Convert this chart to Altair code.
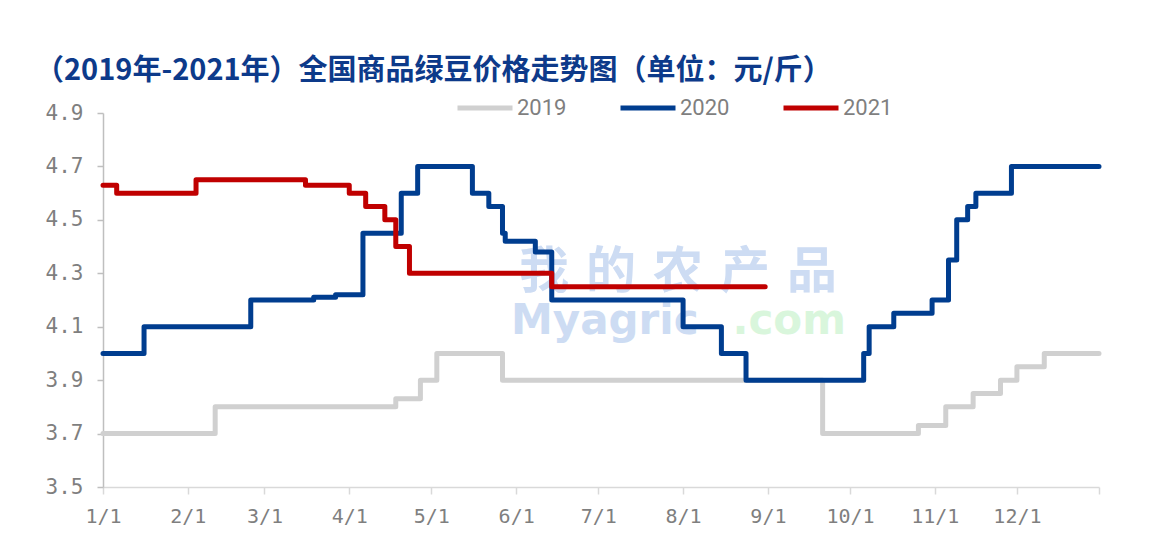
import altair as alt
import pandas as pd

# ---------------- data ----------------
series_names = ["2019", "2020", "2021"]
series_colors = ["#d0d0d0", "#003d8f", "#c00000"]

dates_2019 = ["01-01", "02-11", "04-18", "04-27", "05-03", "05-27", "09-21",
              "10-26", "11-05", "11-15", "11-25", "12-01", "12-11", "12-31"]
values_2019 = [3.70, 3.80, 3.83, 3.90, 4.00, 3.90, 3.70,
               3.73, 3.80, 3.85, 3.90, 3.95, 4.00, 4.00]

dates_2020 = ["01-01", "01-16", "02-24", "03-19", "03-27", "04-06", "04-20",
              "04-26", "05-16", "05-22", "05-27", "05-28", "06-08", "06-14",
              "08-01", "08-15", "08-24", "10-06", "10-08", "10-17", "10-31",
              "11-06", "11-09", "11-13", "11-16", "11-29", "12-31"]
values_2020 = [4.00, 4.10, 4.20, 4.21, 4.22, 4.45, 4.60,
               4.70, 4.60, 4.55, 4.45, 4.42, 4.38, 4.20,
               4.10, 4.00, 3.90, 4.00, 4.10, 4.15, 4.20,
               4.35, 4.50, 4.55, 4.60, 4.70, 4.70]

dates_2021 = ["01-01", "01-06", "02-04", "03-16", "04-01", "04-07", "04-14",
              "04-18", "04-23", "06-14", "08-31"]
values_2021 = [4.63, 4.60, 4.65, 4.63, 4.60, 4.55, 4.50,
               4.40, 4.30, 4.25, 4.25]

y_ticks = [3.5, 3.7, 3.9, 4.1, 4.3, 4.5, 4.7, 4.9]
x_tick_months = list(range(1, 13))

title_text = "（2019年-2021年）全国商品绿豆价格走势图（单位：元/斤）"
watermark_cn = "我的农产品"
watermark_en1 = "Myagric"
watermark_en2 = ".com"

BASE_YEAR = 2001

rows = []
for name, ds, vs in [("2019", dates_2019, values_2019),
                     ("2020", dates_2020, values_2020),
                     ("2021", dates_2021, values_2021)]:
    for d, v in zip(ds, vs):
        rows.append({"date": f"{BASE_YEAR}-{d}T00:00:00", "value": v, "series": name})
df = pd.DataFrame(rows)

one = alt.Data(values=[{"k": 1}])

# ---------------- marks ----------------
x_values = [alt.DateTime(year=BASE_YEAR, month=m, date=1) for m in x_tick_months] + \
           [alt.DateTime(year=BASE_YEAR, month=12, date=31)]

x_enc = alt.X(
    "date:T",
    scale=alt.Scale(domain=[alt.DateTime(year=BASE_YEAR, month=1, date=1),
                            alt.DateTime(year=BASE_YEAR, month=12, date=31)]),
    axis=alt.Axis(
        values=x_values,
        labelExpr="date(datum.value) == 1 ? timeFormat(datum.value, '%-m/%-d') : ''",
        labelFont="DejaVu Sans Mono", labelFontSize=20, labelColor="#7f7f7f",
        labelFlush=False, labelOverlap=False, labelPadding=12,
        tickSize=7, tickColor="#d9d9d9", tickWidth=1.5,
        domainColor="#d9d9d9", domainWidth=1.5, grid=False, title=None,
    ),
)
y_enc = alt.Y(
    "value:Q",
    scale=alt.Scale(domain=[3.5, 4.9], nice=False, zero=False),
    axis=alt.Axis(
        values=y_ticks, format=".1f",
        labelFont="DejaVu Sans Mono", labelFontSize=21, labelColor="#7f7f7f",
        labelPadding=14, tickSize=6, tickColor="#bfbfbf", tickWidth=1.5,
        domainColor="#bfbfbf", domainWidth=1.5, grid=False, title=None,
    ),
)

lines = alt.Chart(df).mark_line(
    interpolate="step-after", strokeWidth=5, strokeCap="round", strokeJoin="round"
).encode(
    x=x_enc,
    y=y_enc,
    color=alt.Color(
        "series:N",
        scale=alt.Scale(domain=series_names, range=series_colors),
        legend=alt.Legend(
            title=None, orient="none", direction="horizontal",
            legendX=352, legendY=-35,
            symbolType="stroke", symbolSize=3025, symbolStrokeWidth=5,
            labelFont="Roboto", labelFontSize=22, labelColor="#7f7f7f",
            labelOffset=2, columnPadding=43, padding=0,
        ),
    ),
)

frame_left = alt.Chart(one).mark_rule(color="#9a9a9a", strokeWidth=1.5).encode(
    x=alt.value(-96), y=alt.value(-106), y2=alt.value(460))
frame_top = alt.Chart(one).mark_rule(color="#9a9a9a", strokeWidth=1.5).encode(
    x=alt.value(-96), x2=alt.value(1060), y=alt.value(-106))

wm_layers = []
for i, ch in enumerate(watermark_cn):
    wm_layers.append(
        alt.Chart(one).mark_text(
            text=ch, font="Noto Sans CJK SC", fontSize=50, fontWeight="bold",
            color="#cddcf3", align="center", baseline="middle",
        ).encode(x=alt.value(441 + 67 * i), y=alt.value(160))
    )
wm_layers.append(
    alt.Chart(one).mark_text(
        text=watermark_en1, font="DejaVu Sans", fontSize=42, fontWeight="bold",
        color="#cddcf3", align="left", baseline="alphabetic",
    ).encode(x=alt.value(408), y=alt.value(221))
)
wm_layers.append(
    alt.Chart(one).mark_text(
        text=watermark_en2, font="DejaVu Sans", fontSize=42, fontWeight="bold",
        color="#d9f6dc", align="right", baseline="alphabetic",
    ).encode(x=alt.value(743), y=alt.value(221))
)

title = alt.Chart(one).mark_text(
    text=title_text, font="Noto Sans CJK SC", fontSize=29, fontWeight="bold",
    color="#0d3a8a", align="left", baseline="middle",
).encode(x=alt.value(-68), y=alt.value(-42))

chart = alt.layer(
    frame_left, frame_top, *wm_layers, lines, title
).properties(
    width=996, height=374,
    padding={"left": 95, "top": 105, "right": 45, "bottom": 45},
    autosize=alt.AutoSizeParams(type="none"),
).configure_view(stroke=None)

chart.save("out.html", embed_options={"renderer": "svg", "actions": False})
